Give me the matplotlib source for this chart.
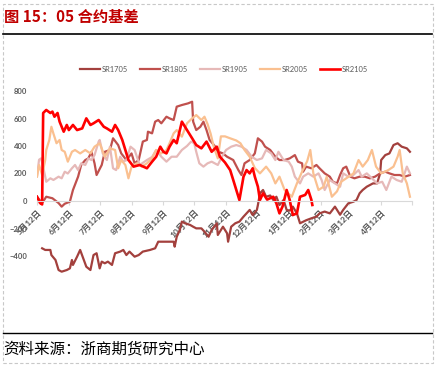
import matplotlib
matplotlib.use("Agg")
import matplotlib.pyplot as plt
from matplotlib.lines import Line2D
from matplotlib.patches import Rectangle

plt.rcParams['font.family'] = ['Lato', 'Noto Sans CJK SC', 'DejaVu Sans']

# x = days after 5月12日
tick_days = [0, 31, 61, 92, 123, 153, 184, 214, 245, 276, 304, 335, 365]
tick_labels = ["5月12日", "6月12日", "7月12日", "8月12日", "9月12日", "10月12日",
               "11月12日", "12月12日", "1月12日", "2月12日", "3月12日", "4月12日", ""]

sr1705_x = [5, 8, 13, 14, 18, 21, 24, 29, 32, 34, 35, 39, 42, 45, 48, 52, 55, 58, 61, 63,
            66, 69, 73, 76, 81, 84, 87, 90, 95, 99, 103, 110, 115, 118, 126, 133, 134, 136,
            139, 141, 144, 149, 152, 155, 160, 163, 167, 170, 175, 176, 181, 185, 186, 189,
            193, 197, 201, 207, 210, 214, 215, 217, 220, 223, 227, 230, 233, 236, 240, 243,
            246, 249, 253, 256, 262, 267, 272, 275, 280, 285, 290, 295, 298, 303, 308, 311,
            314, 317, 321, 327, 331, 334, 335, 339, 343, 347, 351, 355, 360, 363]
sr1705_y = [-344, -356, -356, -393, -429, -502, -514, -502, -490, -429, -465, -405, -356, -417,
            -478, -502, -393, -380, -490, -441, -453, -441, -465, -380, -368, -356, -393, -368,
            -405, -393, -368, -356, -344, -296, -296, -296, -332, -260, -211, -150, -162, -174,
            -187, -199, -199, -223, -260, -211, -162, -247, -187, -235, -296, -187, -162, -150,
            -114, -65, -102, -65, -30, 56, 80, 31, 40, 7, 31, -29, 7, -65, -70, -41, -90, -162,
            -140, -126, -114, -90, -77, -90, -41, -100, -65, -17, -5, 7, 56, 80, 104, 128, 128,
            201, 298, 334, 346, 407, 420, 395, 383, 358]

sr1805_x = [0, 5, 9, 15, 21, 24, 27, 32, 35, 40, 43, 47, 50, 53, 56, 58, 63, 66, 71, 74, 79,
            82, 87, 92, 95, 99, 103, 107, 108, 112, 115, 118, 121, 126, 129, 133, 136, 141, 147,
            151, 152, 155, 159, 162, 165, 168, 173, 176, 181, 185, 188, 191, 196, 199, 202, 207,
            212, 215, 219, 222, 227, 232, 236, 241, 246, 251, 254, 258, 259, 262, 267, 272, 275,
            280, 285, 288, 292, 295, 298, 301, 305, 309, 314, 319, 324, 329, 334, 339, 343, 348,
            353, 358, 363]
sr1805_y = [31, -15, 31, 20, -15, -41, -20, -5, 80, 177, 262, 298, 310, 358, 274, 189, 262, 358,
            371, 456, 407, 346, 298, 346, 274, 298, 432, 444, 504, 492, 577, 589, 565, 613, 601,
            589, 686, 698, 710, 722, 577, 516, 540, 577, 516, 444, 400, 360, 346, 322, 310, 298,
            225, 189, 274, 298, 346, 456, 432, 395, 371, 322, 298, 298, 310, 334, 286, 274, 213,
            250, 238, 262, 238, 201, 177, 140, 128, 189, 238, 250, 177, 165, 177, 177, 165, 177,
            201, 213, 201, 189, 189, 177, 189]

sr1905_x = [0, 2, 4, 6, 9, 13, 16, 21, 24, 27, 30, 34, 37, 40, 43, 47, 50, 53, 56, 60, 61, 64,
            68, 71, 74, 77, 81, 84, 87, 91, 95, 100, 107, 112, 116, 121, 126, 131, 136, 141, 146,
            150, 153, 155, 158, 162, 166, 170, 176, 180, 184, 189, 194, 199, 204, 209, 214, 219,
            223, 228, 232, 235, 240, 245, 248, 251, 256, 259, 264, 269, 274, 277, 280, 285, 290,
            295, 298, 303, 308, 313, 316, 321, 326, 331, 336, 340, 345, 350, 355, 360, 363]
sr1905_y = [180, 300, 310, 250, 140, 165, 153, 177, 165, 213, 200, 238, 262, 225, 274, 262, 310,
            298, 334, 432, 444, 346, 298, 395, 238, 225, 322, 286, 298, 395, 371, 262, 298, 320,
            371, 322, 286, 322, 322, 371, 400, 432, 420, 358, 274, 250, 274, 286, 262, 322, 371,
            395, 407, 395, 371, 322, 298, 310, 371, 346, 298, 358, 298, 286, 250, 177, 128, 177,
            201, 177, 201, 153, 80, 153, 128, 104, 201, 177, 190, 225, 177, 201, 165, 128, 140,
            80, 177, 153, 140, 250, 201]

sr2005_x = [0, 2, 5, 8, 9, 12, 14, 16, 19, 22, 24, 27, 30, 34, 37, 42, 47, 52, 56, 61, 66, 71,
            76, 79, 82, 86, 89, 92, 97, 102, 107, 112, 116, 121, 126, 129, 133, 136, 141, 146,
            151, 155, 160, 163, 166, 169, 172, 176, 179, 183, 188, 194, 198, 202, 207, 212, 217,
            223, 228, 232, 236, 241, 248, 253, 259, 263, 266, 269, 274, 279, 282, 287, 292, 296,
            301, 308, 313, 317, 322, 326, 330, 335, 342, 347, 351, 353, 356, 360, 363]
sr2005_y = [177, 262, 190, 298, 371, 444, 540, 490, 420, 444, 371, 358, 286, 358, 371, 346, 371,
            346, 395, 420, 322, 383, 371, 238, 298, 262, 165, 250, 274, 250, 274, 310, 371, 346,
            371, 420, 492, 516, 468, 565, 601, 625, 589, 613, 560, 490, 395, 310, 470, 470, 456,
            440, 420, 371, 322, 240, 201, 250, 201, 128, 177, 80, 31, 128, 230, 290, 371, 200, 80,
            104, 177, 31, 70, 140, 165, 200, 298, 250, 298, 371, 250, 201, 225, 250, 322, 371,
            201, 128, 31]

sr2105_x = [0, 3, 5, 6, 9, 13, 15, 17, 20, 22, 26, 29, 31, 35, 39, 44, 48, 52, 55, 60, 65, 68,
            73, 76, 79, 83, 86, 89, 94, 100, 107, 112, 116, 120, 123, 126, 129, 133, 136, 141,
            146, 151, 155, 160, 165, 170, 175, 178, 183, 188, 191, 194, 197, 201, 204, 207, 210,
            212, 215, 217, 220, 224, 230, 233, 236, 239, 243, 246, 249, 253, 256, 261, 264, 267,
            268]
sr2105_y = [31, -15, -25, 640, 662, 640, 650, 613, 640, 577, 504, 553, 516, 553, 516, 528, 601,
            553, 565, 589, 540, 528, 504, 553, 516, 444, 371, 298, 250, 262, 238, 286, 322, 395,
            358, 346, 395, 444, 420, 577, 516, 456, 407, 383, 432, 358, 395, 322, 280, 225, 153,
            80, 7, 177, 225, 201, 238, 177, 104, 7, 56, 10, 31, -17, -90, -40, 80, 7, -102, -90,
            31, 44, 80, 10, -29]

series = [
    ("SR1705", sr1705_x, sr1705_y, "#A3403D", 1.6),
    ("SR1805", sr1805_x, sr1805_y, "#C0504D", 1.6),
    ("SR1905", sr1905_x, sr1905_y, "#E6B9B8", 1.6),
    ("SR2005", sr2005_x, sr2005_y, "#FAC090", 1.6),
    ("SR2105", sr2105_x, sr2105_y, "#FF0000", 1.9),
]

fig = plt.figure(figsize=(4.36, 3.66), dpi=100)
ax = fig.add_axes([37 / 436, 1 - 283.5 / 366, 375 / 436, 192.5 / 366])

for name, xs, ys, color, lw in series:
    ax.plot(xs, ys, color=color, lw=lw, label=name, solid_joinstyle="round")

ax.set_xlim(0, 365)
ax.set_ylim(-600, 800)
ax.set_yticks([-400, -200, 0, 200, 400, 600, 800])
for s in ["top", "right", "left"]:
    ax.spines[s].set_visible(False)
ax.spines["bottom"].set_position(("data", 0))
ax.spines["bottom"].set_color("#D9D9D9")
ax.set_xticks(tick_days)
ax.set_xticklabels(tick_labels, rotation=45, ha="right", va="top",
                   rotation_mode="anchor", fontsize=6, fontweight="bold", color="#595959")
ax.tick_params(axis="x", length=3, color="#D9D9D9", pad=2)
ax.tick_params(axis="y", length=0, pad=7, labelsize=5.5, labelcolor="#595959")
for t in ax.get_yticklabels():
    t.set_fontweight("bold")
ax.patch.set_visible(False)

handles = [Line2D([], [], color=c, lw=lw) for _, _, _, c, lw in series]
fig.legend(handles, [s[0] for s in series], loc="center", ncol=5,
           bbox_to_anchor=(224 / 436, 1 - 69 / 366), frameon=False,
           fontsize=5.4, labelcolor="#595959", handlelength=2.7,
           handletextpad=0.2, columnspacing=1.6)

# title, rules, source and dashed frame
fig.text(4 / 436, 1 - 17 / 366, "图 15：05 合约基差", color="#C00000", fontsize=11,
         fontweight="bold", va="center", ha="left", family=["Noto Sans CJK SC", "DejaVu Sans"])
fig.add_artist(Line2D([3 / 436, 432 / 436], [1 - 34 / 366] * 2, color="black", lw=1.2))
fig.add_artist(Line2D([3 / 436, 432 / 436], [1 - 333 / 366] * 2, color="black", lw=1.0))
fig.text(3 / 436, 1 - 349 / 366, "资料来源：浙商期货研究中心", color="black", fontsize=11.2,
         va="center", ha="left", family=["Noto Sans CJK SC", "DejaVu Sans"])
fig.add_artist(Rectangle((3 / 436, 1 - 363 / 366), 430 / 436, 359 / 366, fill=False,
                         ec="#C8C8C8", lw=0.8, ls=(0, (3, 2)), transform=fig.transFigure))

fig.savefig("out.png", dpi=100)
